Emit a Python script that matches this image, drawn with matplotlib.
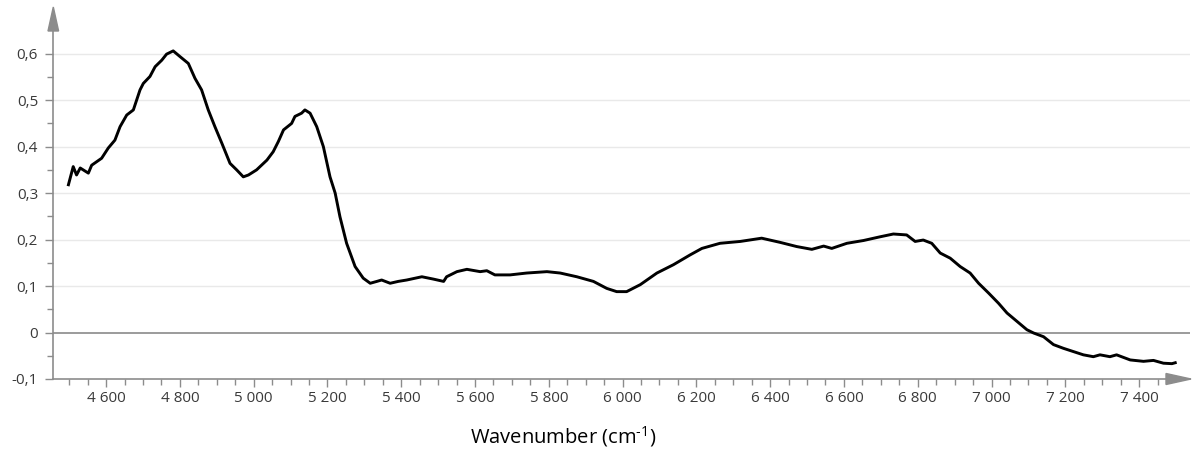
import matplotlib
matplotlib.use("Agg")
import matplotlib.pyplot as plt
from matplotlib.patches import Polygon
from matplotlib.ticker import FixedLocator, FuncFormatter

# Spectrum: wavenumber (cm-1) and absorbance
wavenumber = [4498, 4511, 4520, 4530, 4552, 4561, 4588, 4606, 4624, 4638,
              4656, 4674, 4692, 4701, 4719, 4733, 4751, 4764, 4782, 4800,
              4823, 4841, 4859, 4877, 4895, 4914, 4936, 4954, 4972, 4986,
              5008, 5036, 5053, 5067, 5081, 5103, 5112, 5130, 5139, 5153,
              5171, 5189, 5207, 5221, 5234, 5252, 5275, 5297, 5316, 5334,
              5347, 5370, 5392, 5415, 5456, 5487, 5515, 5523, 5551, 5578,
              5614, 5632, 5654, 5695, 5740, 5795, 5831, 5876, 5921, 5957,
              5984, 6011, 6048, 6093, 6138, 6183, 6215, 6264, 6319, 6377,
              6427, 6472, 6513, 6545, 6567, 6608, 6653, 6698, 6734, 6770,
              6793, 6815, 6838, 6861, 6888, 6915, 6942, 6965, 6992, 7019,
              7042, 7069, 7096, 7114, 7141, 7168, 7195, 7222, 7249, 7276,
              7294, 7321, 7339, 7376, 7412, 7439, 7466, 7489, 7498]
absorbance = [0.318, 0.357, 0.339, 0.354, 0.343, 0.360, 0.375, 0.397, 0.414, 0.443,
              0.468, 0.479, 0.522, 0.536, 0.551, 0.572, 0.586, 0.599, 0.606, 0.594,
              0.579, 0.547, 0.522, 0.479, 0.443, 0.407, 0.364, 0.350, 0.335, 0.339,
              0.350, 0.371, 0.389, 0.411, 0.436, 0.450, 0.465, 0.472, 0.479, 0.472,
              0.443, 0.400, 0.335, 0.300, 0.249, 0.192, 0.142, 0.117, 0.106, 0.110,
              0.113, 0.106, 0.110, 0.113, 0.120, 0.115, 0.110, 0.120, 0.131, 0.136,
              0.131, 0.133, 0.124, 0.124, 0.128, 0.131, 0.128, 0.120, 0.110, 0.095,
              0.088, 0.088, 0.103, 0.128, 0.146, 0.167, 0.181, 0.192, 0.196, 0.203,
              0.194, 0.185, 0.179, 0.186, 0.181, 0.192, 0.198, 0.206, 0.212, 0.210,
              0.196, 0.199, 0.192, 0.171, 0.160, 0.142, 0.128, 0.106, 0.085, 0.063,
              0.042, 0.024, 0.006, -0.001, -0.009, -0.026, -0.034, -0.041, -0.048, -0.052,
              -0.048, -0.052, -0.048, -0.059, -0.062, -0.060, -0.066, -0.067, -0.065]

x_major = [4600, 4800, 5000, 5200, 5400, 5600, 5800, 6000, 6200, 6400,
           6600, 6800, 7000, 7200, 7400]
y_major = [-0.1, 0, 0.1, 0.2, 0.3, 0.4, 0.5, 0.6]
x_title = r"Wavenumber (cm$^{\text{-1}}$)"

W, H = 1192, 453
AXIS = "#8c8c8c"
TEXT = "#3a3a3a"

plt.rcParams['font.family'] = ['Open Sans', 'DejaVu Sans']
plt.rcParams['mathtext.fontset'] = 'custom'
plt.rcParams['mathtext.rm'] = 'Open Sans'

fig = plt.figure(figsize=(W / 100, H / 100), dpi=100)
left, right, bottom, top = 53.3, 1190, 379, 10
ax = fig.add_axes([left / W, (H - bottom) / H, (right - left) / W, (bottom - top) / H])

ax.set_xlim(4457, 7538)
ax.set_ylim(-0.1, 0.694)

# grid and zero line
for v in y_major:
    if v > 0:
        ax.axhline(v, color="#e9e9e9", lw=1.0, zorder=0)
ax.axhline(0, color="#8a8a8a", lw=1.2, zorder=1)

ax.plot(wavenumber, absorbance, color="black", lw=2.1, zorder=3)

for s in ("top", "right"):
    ax.spines[s].set_visible(False)
for s in ("left", "bottom"):
    ax.spines[s].set_color(AXIS)
    ax.spines[s].set_linewidth(1.2)

ax.xaxis.set_major_locator(FixedLocator(x_major))
ax.xaxis.set_minor_locator(FixedLocator([v for v in range(4500, 7500, 50) if v % 200 != 0]))
ax.yaxis.set_major_locator(FixedLocator(y_major))
ax.yaxis.set_minor_locator(FixedLocator([-0.05, 0.05, 0.15, 0.25, 0.35, 0.45, 0.55]))

def fmt_x(v, _):
    return f"{int(round(v)):,}".replace(",", " ")

def fmt_y(v, _):
    if abs(v) < 1e-9:
        return "0"
    return f"{v:.1f}".replace(".", ",")

ax.xaxis.set_major_formatter(FuncFormatter(fmt_x))
ax.yaxis.set_major_formatter(FuncFormatter(fmt_y))
ax.tick_params(axis="both", which="major", length=6, width=1, color=AXIS,
               labelcolor=TEXT, labelsize=11)
ax.tick_params(axis="both", which="minor", length=4, width=1, color=AXIS)
ax.tick_params(axis="x", which="major", pad=3)
ax.tick_params(axis="y", which="major", pad=5)

# arrow heads on both axes
fig.patches.append(Polygon([[1166 / W, (H - 373.5) / H], [1191 / W, (H - 379) / H],
                            [1166 / W, (H - 384.5) / H]], closed=True,
                           transform=fig.transFigure, color=AXIS, zorder=5))
fig.patches.append(Polygon([[48 / W, (H - 31) / H], [53.3 / W, (H - 7) / H],
                            [58.6 / W, (H - 31) / H]], closed=True,
                           transform=fig.transFigure, color=AXIS, zorder=5))

fig.text(563 / W, (H - 437) / H, x_title, ha="center", va="center",
         fontsize=14.5, color="black")

fig.savefig("out.png", dpi=100, facecolor="white")
